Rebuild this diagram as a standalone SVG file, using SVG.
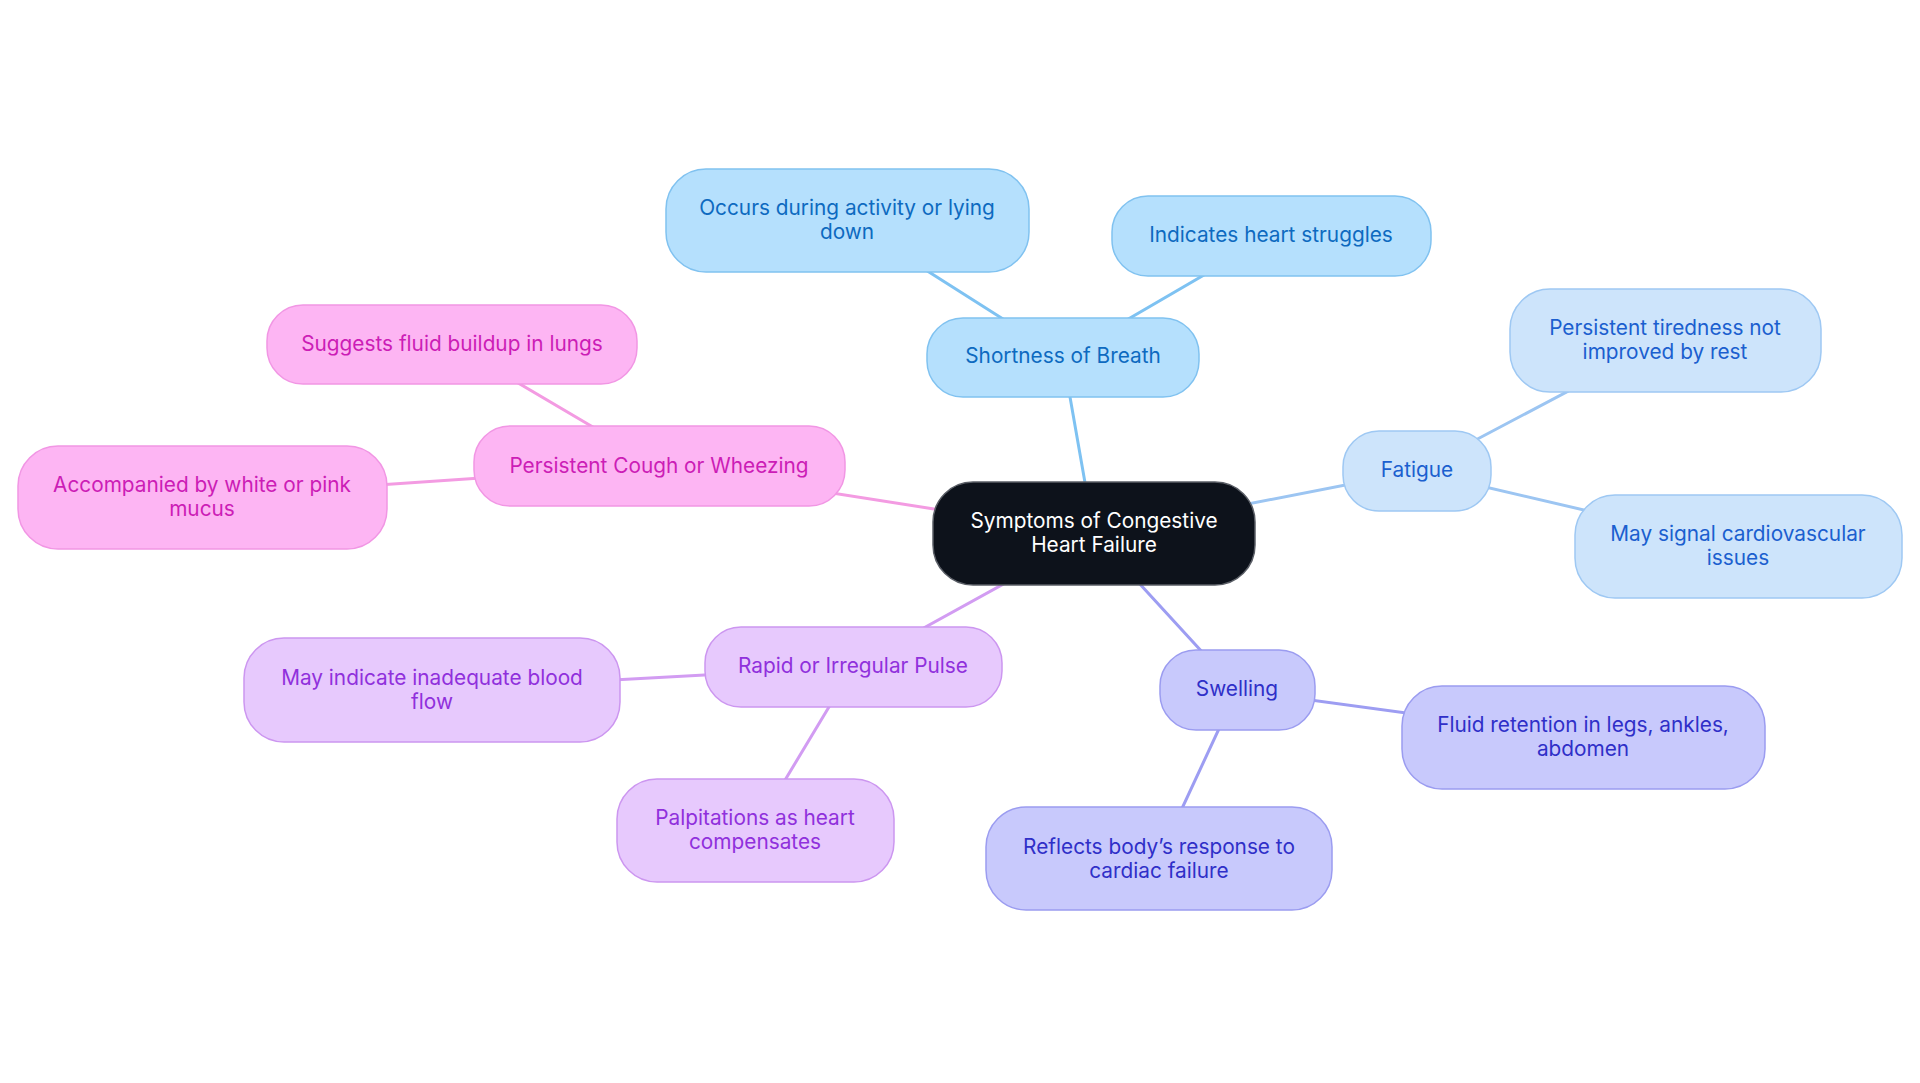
<svg xmlns="http://www.w3.org/2000/svg" width="1920" height="1083" viewBox="0 0 1920 1083">
<style>
text{font-family:Inter,"Open Sans","Liberation Sans",sans-serif;font-size:20.8px;text-anchor:middle}
.e{fill:none;stroke-width:3;stroke-linecap:round}
.e1{stroke:#7ec2f2}.e2{stroke:#9cc5f2}.e3{stroke:#9d9df2}.e4{stroke:#d29cf2}.e5{stroke:#f39be2}
.n1 rect{fill:#b5e0fd;stroke:#80c2f0;stroke-width:1.5}.n1 text{fill:#0d6ac0}
.n2 rect{fill:#cde4fb;stroke:#9ec8f3;stroke-width:1.5}.n2 text{fill:#1b5fcf}
.n3 rect{fill:#c8c9fc;stroke:#9b9cf0;stroke-width:1.5}.n3 text{fill:#2f2fc8}
.n4 rect{fill:#e7c9fd;stroke:#cc96f0;stroke-width:1.5}.n4 text{fill:#9030dc}
.n5 rect{fill:#fdb5f3;stroke:#f196e4;stroke-width:1.5}.n5 text{fill:#cc1db6}
.c rect{fill:#0d121b;stroke:#5a5e66;stroke-width:1.5}.c text{fill:#ffffff}
</style>
<rect width="1920" height="1083" fill="#ffffff"/>
<g id="connectors">
<line class="e e1" x1="1094" y1="534" x2="1063" y2="357"/>
<line class="e e1" x1="1063" y1="357" x2="847" y2="220"/>
<line class="e e1" x1="1063" y1="357" x2="1271" y2="236"/>
<line class="e e2" x1="1094" y1="534" x2="1417" y2="471"/>
<line class="e e2" x1="1417" y1="471" x2="1665" y2="340"/>
<line class="e e2" x1="1417" y1="471" x2="1738" y2="546"/>
<line class="e e3" x1="1094" y1="534" x2="1237" y2="690"/>
<line class="e e3" x1="1237" y1="690" x2="1583" y2="737"/>
<line class="e e3" x1="1237" y1="690" x2="1159" y2="858"/>
<line class="e e4" x1="1094" y1="534" x2="853" y2="667"/>
<line class="e e4" x1="853" y1="667" x2="432" y2="690"/>
<line class="e e4" x1="853" y1="667" x2="755" y2="830"/>
<line class="e e5" x1="1094" y1="534" x2="659" y2="466"/>
<line class="e e5" x1="659" y1="466" x2="452" y2="344"/>
<line class="e e5" x1="659" y1="466" x2="202" y2="497"/>
</g>
<g id="center" class="c"><rect x="933" y="482" width="322" height="103" rx="40"/><text x="1094" y="528">Symptoms of Congestive</text><text x="1094" y="552">Heart Failure</text></g>
<g id="shortness" class="n1"><rect x="927" y="318" width="272" height="79" rx="36"/><text x="1063" y="363">Shortness of Breath</text></g>
<g id="occurs" class="n1"><rect x="666" y="169" width="363" height="103" rx="40"/><text x="847" y="215">Occurs during activity or lying</text><text x="847" y="239">down</text></g>
<g id="indicates" class="n1"><rect x="1112" y="196" width="319" height="80" rx="36"/><text x="1271" y="242">Indicates heart struggles</text></g>
<g id="fatigue" class="n2"><rect x="1343" y="431" width="148" height="80" rx="36"/><text x="1417" y="477">Fatigue</text></g>
<g id="tiredness" class="n2"><rect x="1510" y="289" width="311" height="103" rx="40"/><text x="1665" y="335">Persistent tiredness not</text><text x="1665" y="359">improved by rest</text></g>
<g id="cardio" class="n2"><rect x="1575" y="495" width="327" height="103" rx="40"/><text x="1738" y="541">May signal cardiovascular</text><text x="1738" y="565">issues</text></g>
<g id="swelling" class="n3"><rect x="1160" y="650" width="155" height="80" rx="36"/><text x="1237" y="696">Swelling</text></g>
<g id="fluid" class="n3"><rect x="1402" y="686" width="363" height="103" rx="40"/><text x="1583" y="732">Fluid retention in legs, ankles,</text><text x="1583" y="756">abdomen</text></g>
<g id="reflects" class="n3"><rect x="986" y="807" width="346" height="103" rx="40"/><text x="1159" y="854">Reflects body’s response to</text><text x="1159" y="878">cardiac failure</text></g>
<g id="pulse" class="n4"><rect x="705" y="627" width="297" height="80" rx="36"/><text x="853" y="673">Rapid or Irregular Pulse</text></g>
<g id="blood" class="n4"><rect x="244" y="638" width="376" height="104" rx="40"/><text x="432" y="685">May indicate inadequate blood</text><text x="432" y="709">flow</text></g>
<g id="palpitations" class="n4"><rect x="617" y="779" width="277" height="103" rx="40"/><text x="755" y="825">Palpitations as heart</text><text x="755" y="849">compensates</text></g>
<g id="cough" class="n5"><rect x="474" y="426" width="371" height="80" rx="36"/><text x="659" y="473">Persistent Cough or Wheezing</text></g>
<g id="lungs" class="n5"><rect x="267" y="305" width="370" height="79" rx="36"/><text x="452" y="351">Suggests fluid buildup in lungs</text></g>
<g id="mucus" class="n5"><rect x="18" y="446" width="369" height="103" rx="40"/><text x="202" y="492">Accompanied by white or pink</text><text x="202" y="516">mucus</text></g>
</svg>
